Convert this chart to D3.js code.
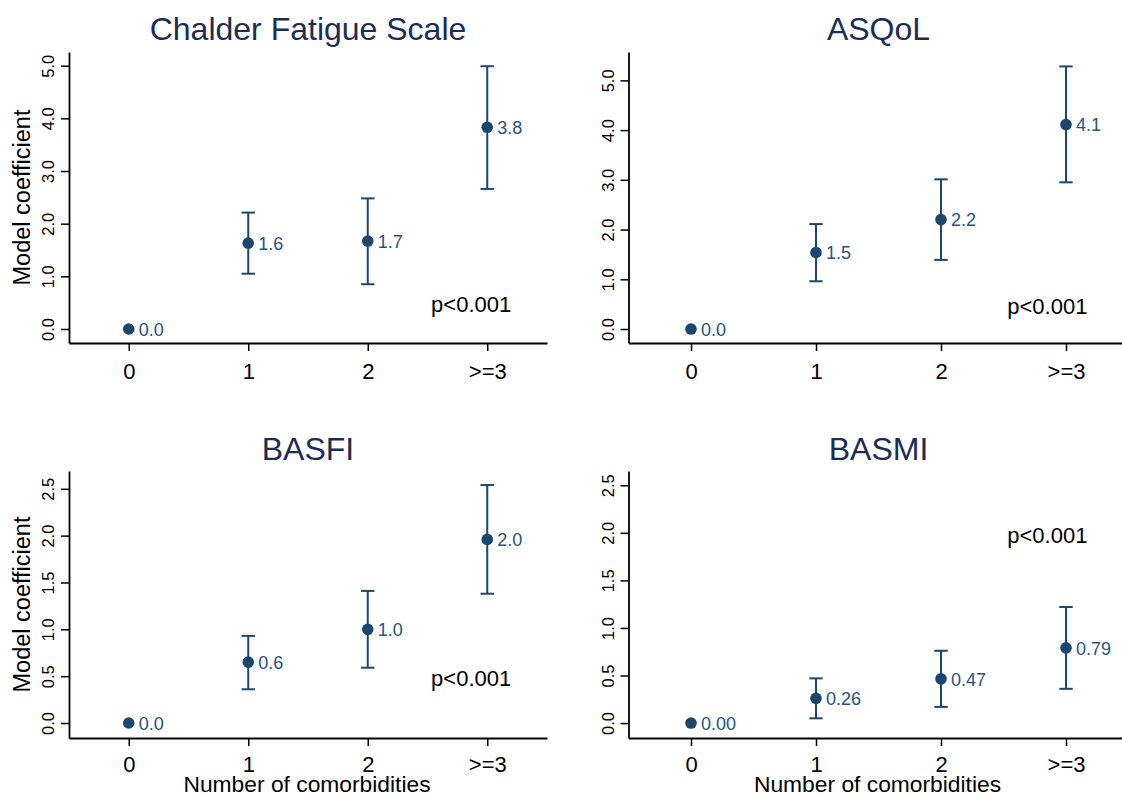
<!DOCTYPE html>
<html>
<head>
<meta charset="utf-8">
<script src="https://cdn.jsdelivr.net/npm/d3@7"></script>
<style>
  body { margin: 0; background: #fff; }
  svg { display: block; font-family: "Liberation Sans", Arial, sans-serif; }
</style>
</head>
<body>
<svg width="1122" height="796"></svg>
<script>
// ---- data ----
var categories = ["0", "1", "2", ">=3"];
var panelTitles = ["Chalder Fatigue Scale", "ASQoL", "BASFI", "BASMI"];

var cfsCoef = [0, 1.63, 1.67, 3.83];
var cfsLow = [null, 1.05, 0.85, 2.66];
var cfsHigh = [null, 2.21, 2.48, 4.99];
var cfsLabels = ["0.0", "1.6", "1.7", "3.8"];

var asqolCoef = [0, 1.54, 2.20, 4.11];
var asqolLow = [null, 0.96, 1.39, 2.95];
var asqolHigh = [null, 2.11, 3.01, 5.28];
var asqolLabels = ["0.0", "1.5", "2.2", "4.1"];

var basfiCoef = [0, 0.65, 1.00, 1.96];
var basfiLow = [null, 0.36, 0.59, 1.38];
var basfiHigh = [null, 0.93, 1.41, 2.54];
var basfiLabels = ["0.0", "0.6", "1.0", "2.0"];

var basmiCoef = [0, 0.26, 0.465, 0.79];
var basmiLow = [null, 0.05, 0.17, 0.36];
var basmiHigh = [null, 0.47, 0.76, 1.22];
var basmiLabels = ["0.00", "0.26", "0.47", "0.79"];

var topTicks = [0, 1, 2, 3, 4, 5];
var bottomTicks = [0, 0.5, 1, 1.5, 2, 2.5];

var pText = "p<0.001";
var pX = [2.53, 2.53, 2.53, 2.53];
var pY = [0.47, 0.46, 0.48, 1.98];

var yTitle = "Model coefficient";
var xTitle = "Number of comorbidities";

// ---- layout ----
var navy = "#1a476f",
    labelBlue = "#25547f",
    titleColor = "#1c2c58",
    font = "'Liberation Sans', Arial, sans-serif";

var panels = [
  {coef: cfsCoef, low: cfsLow, high: cfsHigh, labels: cfsLabels, ticks: topTicks,
   left: 69, right: 547, top: 52, bottom: 343, ydom: [-0.266, 5.26], titleY: 40, yTitle: true, xTitle: false, tickPad: 12},
  {coef: asqolCoef, low: asqolLow, high: asqolHigh, labels: asqolLabels, ticks: topTicks,
   left: 628.5, right: 1128.5, top: 52, bottom: 343, ydom: [-0.281, 5.57], titleY: 40, yTitle: false, xTitle: false, tickPad: 12},
  {coef: basfiCoef, low: basfiLow, high: basfiHigh, labels: basfiLabels, ticks: bottomTicks,
   left: 69, right: 547, top: 471, bottom: 738, ydom: [-0.16, 2.69], titleY: 460, yTitle: true, xTitle: true, tickPad: 10},
  {coef: basmiCoef, low: basmiLow, high: basmiHigh, labels: basmiLabels, ticks: bottomTicks,
   left: 628.5, right: 1128.5, top: 471, bottom: 738, ydom: [-0.157, 2.65], titleY: 460, yTitle: false, xTitle: true, tickPad: 10}
];

var svg = d3.select("svg");
svg.append("rect").attr("width", 1122).attr("height", 796).attr("fill", "#fff");

panels.forEach(function(p, i) {
  var x = d3.scaleLinear().domain([-0.5, 3.5]).range([p.left, p.right]),
      y = d3.scaleLinear().domain(p.ydom).range([p.bottom, p.top]);
  var g = svg.append("g");

  // title
  g.append("text")
    .attr("x", (p.left + p.right) / 2)
    .attr("y", p.titleY)
    .attr("text-anchor", "middle")
    .attr("fill", titleColor)
    .attr("font-size", 32)
    .text(panelTitles[i]);

  // x axis
  var xa = g.append("g")
    .attr("transform", "translate(0," + p.bottom + ")")
    .call(d3.axisBottom(x)
      .tickValues([0, 1, 2, 3])
      .tickFormat(function(d) { return categories[d]; })
      .tickSize(8).tickSizeOuter(0).tickPadding(p.tickPad))
    .attr("font-size", 22)
    .attr("font-family", font);
  xa.select(".domain").attr("stroke", "#000").attr("stroke-width", 1.8);
  xa.selectAll(".tick line").attr("stroke", "#000").attr("stroke-width", 1.5);
  xa.selectAll(".tick text").attr("fill", "#000");

  // y axis, labels turned like the original
  var ya = g.append("g")
    .attr("transform", "translate(" + p.left + ",0)")
    .call(d3.axisLeft(y)
      .tickValues(p.ticks)
      .tickFormat(d3.format(".1f"))
      .tickSize(8).tickSizeOuter(0))
    .attr("font-size", 16.5)
    .attr("font-family", font);
  ya.select(".domain").attr("stroke", "#000").attr("stroke-width", 1.8);
  ya.selectAll(".tick line").attr("stroke", "#000").attr("stroke-width", 1.5);
  ya.selectAll(".tick text")
    .attr("fill", "#000")
    .attr("x", 0).attr("y", -15).attr("dy", 0)
    .attr("text-anchor", "middle")
    .attr("transform", "rotate(-90)");

  if (p.yTitle) {
    g.append("text")
      .attr("transform", "translate(29.5," + (p.top + p.bottom) / 2 + ") rotate(-90)")
      .attr("text-anchor", "middle")
      .attr("fill", "#000")
      .attr("font-size", 23.5)
      .text(yTitle);
  }
  if (p.xTitle) {
    g.append("text")
      .attr("x", (p.left + p.right) / 2 - 1)
      .attr("y", 792)
      .attr("text-anchor", "middle")
      .attr("fill", "#000")
      .attr("font-size", 22.8)
      .text(xTitle);
  }

  var idx = d3.range(categories.length);

  // error bars (none for the reference group)
  var bars = g.selectAll(".ci").data(idx.filter(function(k) { return p.low[k] != null; }))
    .enter().append("g").attr("class", "ci")
    .attr("stroke", navy).attr("stroke-width", 2);
  bars.append("line")
    .attr("x1", function(k) { return x(k); }).attr("x2", function(k) { return x(k); })
    .attr("y1", function(k) { return y(p.low[k]); }).attr("y2", function(k) { return y(p.high[k]); });
  bars.append("line")
    .attr("x1", function(k) { return x(k) - 6.7; }).attr("x2", function(k) { return x(k) + 6.7; })
    .attr("y1", function(k) { return y(p.low[k]); }).attr("y2", function(k) { return y(p.low[k]); });
  bars.append("line")
    .attr("x1", function(k) { return x(k) - 6.7; }).attr("x2", function(k) { return x(k) + 6.7; })
    .attr("y1", function(k) { return y(p.high[k]); }).attr("y2", function(k) { return y(p.high[k]); });

  // points
  g.selectAll(".pt").data(idx).enter().append("circle")
    .attr("class", "pt")
    .attr("cx", function(k) { return x(k); })
    .attr("cy", function(k) { return y(p.coef[k]); })
    .attr("r", 5.8)
    .attr("fill", navy);

  // marker labels
  g.selectAll(".lbl").data(idx).enter().append("text")
    .attr("class", "lbl")
    .attr("x", function(k) { return x(k) + 10; })
    .attr("y", function(k) { return y(p.coef[k]); })
    .attr("dy", "0.38em")
    .attr("fill", labelBlue)
    .attr("font-size", 18)
    .text(function(k) { return p.labels[k]; });

  // p-value
  g.append("text")
    .attr("x", x(pX[i]))
    .attr("y", y(pY[i]))
    .attr("dy", "0.36em")
    .attr("fill", "#000")
    .attr("font-size", 22)
    .text(pText);
});
</script>
</body>
</html>
